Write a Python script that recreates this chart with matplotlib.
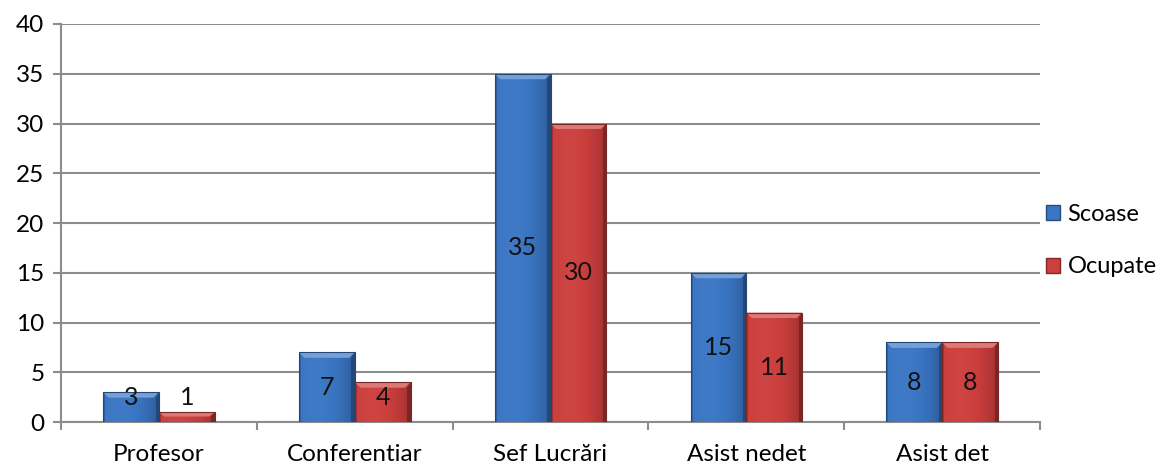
import numpy as np
import matplotlib
matplotlib.use("Agg")
import matplotlib.pyplot as plt
from matplotlib.patches import Patch, Polygon
from matplotlib.colors import to_rgb

plt.rcParams['font.family'] = ['Lato', 'DejaVu Sans']

categories = ['Profesor', 'Conferentiar', 'Sef Lucrări', 'Asist nedet', 'Asist det']
scoase = [3, 7, 35, 15, 8]
ocupate = [1, 4, 30, 11, 8]
series_names = ['Scoase', 'Ocupate']

BLUE = '#3a76c4'
RED = '#cc3f3d'
GRID = '#8c8c8c'


def shade(c, f):
    r = np.array(to_rgb(c))
    if f < 1:
        return tuple(r * f)
    return tuple(r + (1 - r) * (f - 1))


def gradient_bar(ax, patch, color):
    x0, y0 = patch.get_x(), patch.get_y()
    w, h = patch.get_width(), patch.get_height()
    # horizontal gradient: dark edges, a bit lighter left of centre
    t = np.linspace(0, 1, 64)
    prof = 1.0 + 0.04 * np.sin(np.pi * t) - 0.22 * t ** 3
    prof[:2] = 0.75
    img = np.array([[shade(color, f) for f in prof]])
    im = ax.imshow(img, extent=(x0, x0 + w, y0, y0 + h), aspect='auto',
                   interpolation='bilinear', zorder=3)
    im.set_clip_path(patch)
    # bevel on top
    bx, by = 0.028, 0.55
    by = min(by, h * 0.45)
    top = Polygon([(x0, y0 + h), (x0 + w, y0 + h), (x0 + w - bx, y0 + h - by),
                   (x0 + bx, y0 + h - by)], closed=True,
                  facecolor=shade(color, 1.3), edgecolor='none', zorder=4)
    ax.add_patch(top)
    right = Polygon([(x0 + w, y0 + h), (x0 + w, y0), (x0 + w - bx * 0.6, y0),
                     (x0 + w - bx * 0.6, y0 + h - by)], closed=True,
                    facecolor=shade(color, 0.6), edgecolor='none', zorder=4)
    ax.add_patch(right)
    patch.set_edgecolor(shade(color, 0.6))
    patch.set_linewidth(0.8)
    patch.set_facecolor('none')
    patch.set_zorder(5)


fig = plt.figure(figsize=(11.6, 4.66), dpi=100)
ax = fig.add_axes([0.0526, 0.0944, 0.8440, 0.8541])

x = np.arange(len(categories))
width = 0.285
b1 = ax.bar(x - width / 2, scoase, width, color=BLUE, zorder=3)
b2 = ax.bar(x + width / 2, ocupate, width, color=RED, zorder=3)

for bars, color in ((b1, BLUE), (b2, RED)):
    for p in bars:
        gradient_bar(ax, p, color)

for bars, vals in ((b1, scoase), (b2, ocupate)):
    for p, v in zip(bars, vals):
        ax.text(p.get_x() + p.get_width() / 2, max(v / 2, 2.5), str(v),
                ha='center', va='center', fontsize=18, color='#111111', zorder=6)

ax.set_xlim(-0.5, len(categories) - 0.5)
ax.set_ylim(0, 40)
ax.set_yticks(range(0, 41, 5))
ax.set_xticks(x)
ax.set_xticklabels(categories)
ax.set_xticks(np.arange(-0.5, len(categories) + 0.5, 1), minor=True)
ax.tick_params(axis='x', which='major', length=0, pad=16, labelsize=17.5)
ax.tick_params(axis='x', which='minor', length=6, color=GRID, width=1.5)
ax.tick_params(axis='y', length=6, color=GRID, width=1.5, labelsize=17.5, pad=6)
ax.yaxis.grid(True, color=GRID, linewidth=1.5, zorder=0)
ax.set_axisbelow(True)
for s in ('top', 'right'):
    ax.spines[s].set_visible(False)
ax.spines['left'].set_color(GRID)
ax.spines['left'].set_linewidth(1.5)
ax.spines['bottom'].set_color(GRID)
ax.spines['bottom'].set_linewidth(1.5)

handles = [Patch(facecolor=BLUE, edgecolor=shade(BLUE, 0.65)),
           Patch(facecolor=RED, edgecolor=shade(RED, 0.65))]
fig.legend(handles, series_names, loc='center left', bbox_to_anchor=(0.902, 0.484),
           frameon=False, fontsize=17, handlelength=0.6, handleheight=0.6,
           handletextpad=0.3, labelspacing=1.35, borderpad=0, borderaxespad=0)

fig.savefig('out.png', dpi=100)
